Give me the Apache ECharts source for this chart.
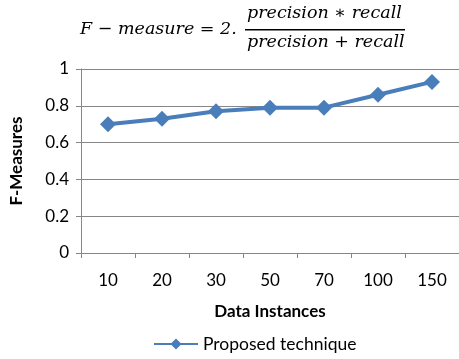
<!DOCTYPE html>
<html><head><meta charset="utf-8">
<script src="https://cdn.jsdelivr.net/npm/echarts@6/dist/echarts.min.js"></script>
<style>html,body{margin:0;padding:0;background:#fff}#c{width:459px;height:359px}</style>
</head><body><div id="c"></div>
<script>
const categories = ['10','20','30','50','70','100','150'];
const fMeasures = [0.70, 0.73, 0.77, 0.79, 0.79, 0.86, 0.93];
const yTicks = [0, 0.2, 0.4, 0.6, 0.8, 1];
const seriesName = 'Proposed technique';
const chart = echarts.init(document.getElementById('c'));
const serif = '"DejaVu Serif", "Liberation Serif", serif';
const sans = 'Lato, "Open Sans", sans-serif';
chart.setOption({
  animation: false,
  grid: {left: 77, top: 69, right: 0, bottom: 106},
  graphic: [
    {type:'text', left: 80, top: 20, style:{text:'F − measure = 2.', font:'italic 17.5px ' + serif, fill:'#000'}},
    {type:'text', left: 247, top: 4, style:{text:'precision ∗ recall', font:'italic 17.5px ' + serif, fill:'#000'}},
    {type:'rect', left: 245, top: 29, shape:{width:160, height:1.5}, style:{fill:'#000'}},
    {type:'text', left: 247, top: 33, style:{text:'precision + recall', font:'italic 17.5px ' + serif, fill:'#000'}}
  ],
  legend: {
    data: [seriesName], bottom: 1, left: 148,
    itemWidth: 44, itemHeight: 14, itemGap: 4,
    textStyle: {fontFamily: sans, fontSize: 17.5, color: '#000'}
  },
  xAxis: {
    type: 'category', data: categories, boundaryGap: true,
    name: 'Data Instances', nameLocation: 'middle', nameGap: 50,
    nameTextStyle: {fontFamily: sans, fontSize: 17, fontWeight: 'bold', color: '#000'},
    axisLine: {lineStyle: {color: '#868686', width: 1}},
    axisTick: {show: true, length: 5, alignWithLabel: false, lineStyle: {color: '#868686'}},
    axisLabel: {fontFamily: sans, fontSize: 17, color: '#000', margin: 19}
  },
  yAxis: {
    type: 'value', min: 0, max: 1, interval: 0.2,
    name: 'F-Measures', nameLocation: 'middle', nameGap: 56,
    nameTextStyle: {fontFamily: sans, fontSize: 17, fontWeight: 'bold', color: '#000'},
    axisLine: {show: true, lineStyle: {color: '#868686', width: 1}},
    axisTick: {show: true, length: 5, lineStyle: {color: '#868686'}},
    splitLine: {lineStyle: {color: '#868686', width: 1}},
    axisLabel: {fontFamily: sans, fontSize: 17, color: '#000', margin: 12,
      formatter: v => yTicks.includes(Math.round(v*10)/10) ? String(Math.round(v*10)/10) : ''}
  },
  series: [{
    name: seriesName, type: 'line', data: fMeasures,
    symbol: 'diamond', symbolSize: 16,
    lineStyle: {color: '#4A7EBB', width: 4},
    itemStyle: {color: '#4A7EBB'}
  }]
});
</script></body></html>
